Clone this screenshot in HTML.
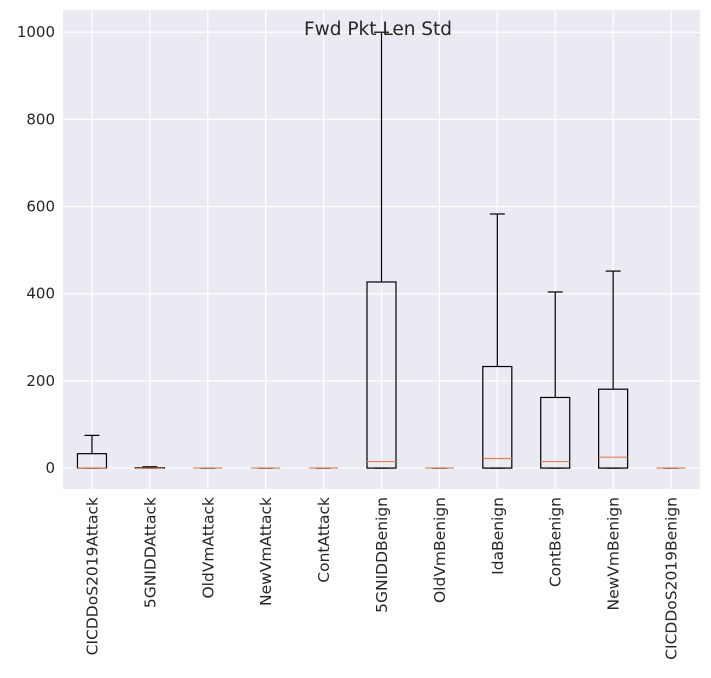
<!DOCTYPE html>
<html><head><meta charset="utf-8"><style>
body{margin:0;background:#fff;}
svg text{font-family:"DejaVu Sans","Liberation Sans",sans-serif;fill:#262626;}
</style></head><body>
<svg id="chart" width="711" height="673" xmlns="http://www.w3.org/2000/svg">
<rect x="63" y="10" width="637" height="479" fill="#eaeaf2"/>
<g id="grid"></g><g id="boxes"></g><g id="labels"></g>
<text x="378" y="35" text-anchor="middle" font-size="18.5">Fwd Pkt Len Std</text>
</svg>
<script>
const categories=["CICDDoS2019Attack","5GNIDDAttack","OldVmAttack","NewVmAttack","ContAttack","5GNIDDBenign","OldVmBenign","IdaBenign","ContBenign","NewVmBenign","CICDDoS2019Benign"];
const q1Values=[0,0,0,0,0,0,0,0,0,0,0];
const medianValues=[0,0,0,0,0,15,0,22,15,25,0];
const q3Values=[33,1,0,0,0,427,0,233,162,181,0];
const whiskerLow=[0,0,0,0,0,0,0,0,0,0,0];
const whiskerHigh=[75,3,0,0,0,1000,0,583,404,452,0];
const yTicks=[0,200,400,600,800,1000];
const ns="http://www.w3.org/2000/svg";
const L=63,R=700,T=10,B=489,yMin=-48,yMax=1051;
const y=v=>B-(v-yMin)/(yMax-yMin)*(B-T);
const bw=(R-L)/categories.length;
const x=i=>L+bw*(i+0.5);
function mk(tag,attrs,parent){const e=document.createElementNS(ns,tag);for(const k in attrs)e.setAttribute(k,attrs[k]);document.getElementById(parent).appendChild(e);return e;}
yTicks.forEach(t=>{
 const g=mk('line',{x1:L,x2:R,y1:y(t),y2:y(t),stroke:'#fff','stroke-width':1.2},'grid');
 
 
 const tx=mk('text',{x:L-8,y:y(t)+5,'text-anchor':'end','font-size':15},'labels');
 tx.textContent=t;
 
 
});
categories.forEach((c,i)=>{
 const gl=mk('line',{x1:x(i),x2:x(i),y1:T,y2:B,stroke:'#fff','stroke-width':1.2},'grid');
 
 
 const cx=x(i),hw=14.5,cw=7.5;
 const g=mk('g',{},'boxes');
 
 
 const add=(tag,a)=>{const e=document.createElementNS(ns,tag);for(const k in a)e.setAttribute(k,a[k]);g.appendChild(e);return e;};
 add('line',{x1:cx,x2:cx,y1:y(q3Values[i]),y2:y(whiskerHigh[i]),stroke:'#000','stroke-width':1.2});
 add('line',{x1:cx,x2:cx,y1:y(q1Values[i]),y2:y(whiskerLow[i]),stroke:'#000','stroke-width':1.2});
 add('line',{x1:cx-cw,x2:cx+cw,y1:y(whiskerHigh[i]),y2:y(whiskerHigh[i]),stroke:'#000','stroke-width':1.2});
 add('line',{x1:cx-cw,x2:cx+cw,y1:y(whiskerLow[i]),y2:y(whiskerLow[i]),stroke:'#000','stroke-width':1.2});
 add('rect',{x:cx-hw,y:y(q3Values[i]),width:2*hw,height:Math.max(0,y(q1Values[i])-y(q3Values[i])),fill:'none',stroke:'#000','stroke-width':1.2});
 add('line',{x1:cx-hw,x2:cx+hw,y1:y(medianValues[i]),y2:y(medianValues[i]),stroke:'#dd8452','stroke-width':1.2});
 const t=mk('text',{x:0,y:0,'text-anchor':'end','font-size':15.5,transform:`translate(${cx+5.5},497) rotate(-90)`},'labels');
 t.textContent=c;
 
 
});
</script>
</body></html>
